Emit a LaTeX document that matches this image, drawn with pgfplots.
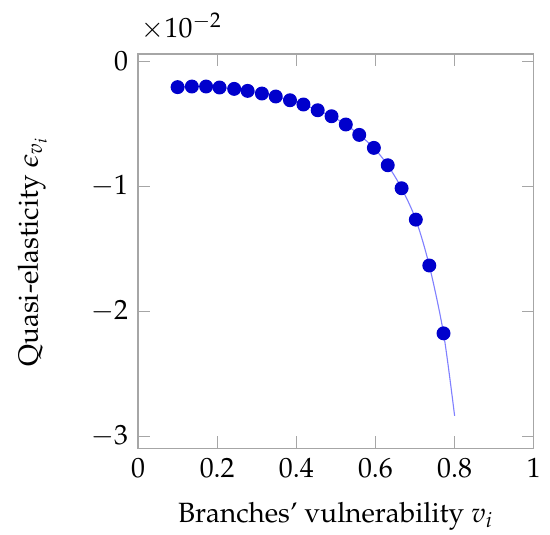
\documentclass[border=0pt]{standalone}
\usepackage[T1]{fontenc}
\usepackage{mathpazo}
\usepackage{pgfplots}
\pgfplotsset{compat=1.18}
\begin{document}
\begin{tikzpicture}
\begin{axis}[
  scale only axis,
  width=142pt, height=141.5pt,
  xmin=0, xmax=1,
  ymin=-0.0310, ymax=0.00055,
  xtick={0,0.2,0.4,0.6,0.8,1},
  xticklabels={0,0.2,0.4,0.6,0.8,1},
  ytick={-0.03,-0.02,-0.01,0},
  scaled y ticks=base 10:2,
  ytick scale label code/.code={$\times 10^{#1}$},
  every y tick scale label/.style={at={(rel axis cs:0,1)}, anchor=south west, inner sep=0pt, yshift=5pt, xshift=1pt},
  axis line style={gray!70},
  tick style={gray!70},
  ylabel shift=9pt,
  xlabel shift=3.5pt,
  xlabel style={inner sep=1.5pt},
  xlabel={Branches' vulnerability $v_i$},
  ylabel={Quasi-elasticity $\epsilon_{v_i}$},
]
\addplot[blue!50, thin, smooth, no marks] coordinates {
(0.100,-0.00210) (0.136,-0.00205) (0.172,-0.00205) (0.206,-0.00213) (0.243,-0.00224)
(0.277,-0.00240) (0.313,-0.00261) (0.348,-0.00285) (0.384,-0.00315) (0.418,-0.00349)
(0.454,-0.00395) (0.489,-0.00443) (0.525,-0.00509) (0.559,-0.00592) (0.596,-0.00696)
(0.631,-0.00835) (0.666,-0.01019) (0.702,-0.01270) (0.736,-0.01637) (0.772,-0.02180)
(0.800,-0.02840)
};
\addplot[only marks, mark=*, mark size=2.3pt, color=blue!80!black] coordinates {
(0.100,-0.00210) (0.136,-0.00205) (0.172,-0.00205) (0.206,-0.00213) (0.243,-0.00224)
(0.277,-0.00240) (0.313,-0.00261) (0.348,-0.00285) (0.384,-0.00315) (0.418,-0.00349)
(0.454,-0.00395) (0.489,-0.00443) (0.525,-0.00509) (0.559,-0.00592) (0.596,-0.00696)
(0.631,-0.00835) (0.666,-0.01019) (0.702,-0.01270) (0.736,-0.01637) (0.772,-0.02180)
};
\end{axis}
\path (current bounding box.south west) ++(-3pt,0pt);
\path (current bounding box.north east) ++(0pt,4.5pt);
\end{tikzpicture}
\end{document}
